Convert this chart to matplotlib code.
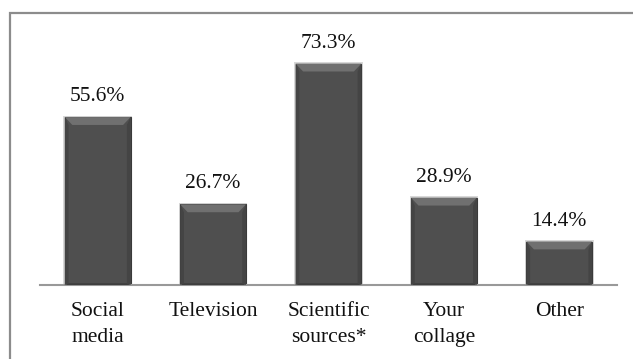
import matplotlib
matplotlib.use("Agg")
import matplotlib.pyplot as plt
from matplotlib.patches import Rectangle, Polygon

categories = ["Social\nmedia", "Television", "Scientific\nsources*", "Your\ncollage", "Other"]
values = [55.6, 26.7, 73.3, 28.9, 14.4]
value_labels = ["55.6%", "26.7%", "73.3%", "28.9%", "14.4%"]

W, H = 633, 359
fig = plt.figure(figsize=(W / 100, H / 100), dpi=100)
plt.rcParams['font.family'] = ['Liberation Serif', 'DejaVu Serif']

# outer frame (only top and left visible)
fig.patches.append(Rectangle((10 / W, -0.05), 1.1, 1 - 13 / H + 0.05,
                             transform=fig.transFigure, fill=False,
                             edgecolor='#8c8c8c', linewidth=1.6))

ax = fig.add_axes([40 / W, 1 - 285 / H, (617 - 40) / W, (285 - 43.4) / H])
ax.set_xlim(-0.5, 4.5)
ax.set_ylim(0, 80)
for s in ['top', 'right', 'left']:
    ax.spines[s].set_visible(False)
ax.spines['bottom'].set_color('#999999')
ax.spines['bottom'].set_linewidth(1.5)
ax.set_yticks([])
ax.set_xticks(range(len(categories)))
ax.set_xticklabels(categories, fontsize=15.5, linespacing=1.5, va='top', color='#111111')
ax.tick_params(axis='x', length=0, pad=12)

bw = 0.57
dx = 0.065   # bevel inset (x units)
dy = 2.6     # bevel inset (y units)
for i, v in enumerate(values):
    x0, x1 = i - bw / 2, i + bw / 2
    # soft shadow
    ax.add_patch(Rectangle((x0 - 0.012, 0), bw + 0.024, v + 0.5, facecolor='#d8d8d8',
                           edgecolor='none', zorder=1))
    ax.add_patch(Rectangle((x0, 0), bw, v, facecolor='#4f4f4f', edgecolor='#3a3a3a',
                           linewidth=0.8, zorder=2))
    # bevels
    ax.add_patch(Polygon([(x0, v), (x1, v), (x1 - dx, v - dy), (x0 + dx, v - dy)],
                         closed=True, facecolor='#707070', edgecolor='none', zorder=3))
    ax.add_patch(Polygon([(x0, v), (x0 + dx * 0.5, v - dy), (x0 + dx * 0.5, 0.6), (x0, 0)],
                         closed=True, facecolor='#444444', edgecolor='none', zorder=3))
    ax.add_patch(Polygon([(x1, v), (x1 - dx * 0.5, v - dy), (x1 - dx * 0.5, 0.6), (x1, 0)],
                         closed=True, facecolor='#444444', edgecolor='none', zorder=3))
    ax.add_patch(Polygon([(x0, 0), (x1, 0), (x1 - dx * 0.5, 0.6), (x0 + dx * 0.5, 0.6)],
                         closed=True, facecolor='#3e3e3e', edgecolor='none', zorder=3))
    ax.text(i, v + 5.3, value_labels[i], ha='center', va='baseline', fontsize=15.5, color='#111111')

fig.savefig("out.png", dpi=100)
